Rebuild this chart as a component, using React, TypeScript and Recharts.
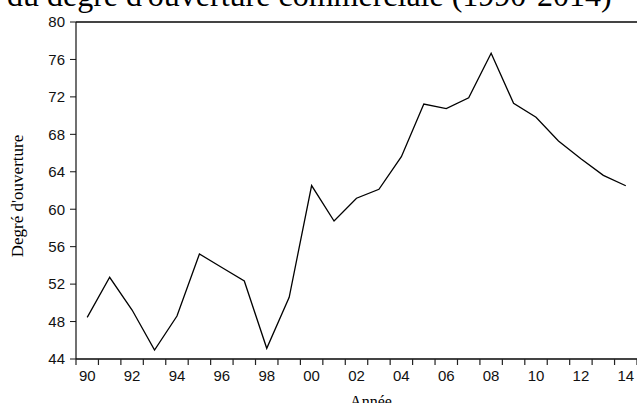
import { LineChart, Line, XAxis, YAxis, ReferenceLine } from "recharts";

const years = [
  1990, 1991, 1992, 1993, 1994, 1995, 1996, 1997, 1998, 1999, 2000, 2001, 2002,
  2003, 2004, 2005, 2006, 2007, 2008, 2009, 2010, 2011, 2012, 2013, 2014,
];
const openness = [
  48.45, 52.73, 49.23, 44.96, 48.59, 55.22, 53.77, 52.33, 45.14, 50.59, 62.53,
  58.74, 61.17, 62.13, 65.61, 71.24, 70.74, 71.91, 76.66, 71.31, 69.82, 67.29,
  65.4, 63.62, 62.51,
];
const labelYears = [
  1990, 1992, 1994, 1996, 1998, 2000, 2002, 2004, 2006, 2008, 2010, 2012, 2014,
];
const yTicks = [44, 48, 52, 56, 60, 64, 68, 72, 76, 80];

const data = years.map((year, i) => ({ year, value: openness[i] }));
// tick marks sit between years, labels at the year itself
const yearEdges = [...years.map((y) => y - 0.5), years[years.length - 1] + 0.5];
const xDomain = [yearEdges[0], yearEdges[yearEdges.length - 1]];

const SANS = "Liberation Sans, Arial, sans-serif";
const SERIF = "Liberation Serif, Times New Roman, serif";

const shortYear = (y: number) => String(y % 100).padStart(2, "0");
const noLabel = () => <g />;

export default function App() {
  return (
    <div
      style={{
        position: "absolute",
        left: 0,
        top: 0,
        width: 637,
        height: 403,
        background: "#fff",
      }}
    >
      <LineChart
        width={637}
        height={403}
        data={data}
        margin={{ top: 22, right: 0, bottom: 24, left: 0 }}
      >
        <XAxis
          xAxisId="edges"
          dataKey="year"
          type="number"
          domain={xDomain}
          ticks={yearEdges}
          interval={0}
          tick={noLabel}
          tickSize={6}
          height={1}
          axisLine={{ stroke: "#444", strokeWidth: 2 }}
          tickLine={{ stroke: "#222", strokeWidth: 1.2 }}
        />
        <XAxis
          xAxisId="years"
          dataKey="year"
          type="number"
          domain={xDomain}
          ticks={labelYears}
          tickFormatter={shortYear}
          interval={0}
          axisLine={false}
          tickLine={false}
          tickSize={6}
          tickMargin={4}
          height={19}
          tick={{ fontFamily: SANS, fontSize: 15, fill: "#111" }}
        />
        <YAxis
          domain={[44, 80]}
          ticks={yTicks}
          interval={0}
          width={76}
          tickSize={6}
          tickMargin={5}
          axisLine={{ stroke: "#111", strokeWidth: 1.2 }}
          tickLine={{ stroke: "#111" }}
          tick={{ fontFamily: SANS, fontSize: 15, fill: "#111" }}
        />
        <ReferenceLine xAxisId="years" y={80} stroke="#444" strokeWidth={2} />
        <Line
          xAxisId="years"
          dataKey="value"
          stroke="#000"
          strokeWidth={1.3}
          dot={false}
          isAnimationActive={false}
        />
        <text x={7} y={6} fontFamily={SERIF} fontSize={32} fill="#000">
          du degré d'ouverture commerciale (1990-2014)
        </text>
        <text
          x={23}
          y={196}
          transform="rotate(-90 23 196)"
          textAnchor="middle"
          fontFamily={SERIF}
          fontSize={17}
          fill="#000"
        >
          Degré d'ouverture
        </text>
        <text
          x={371}
          y={407}
          textAnchor="middle"
          fontFamily={SERIF}
          fontSize={16}
          fill="#000"
        >
          Année
        </text>
      </LineChart>
    </div>
  );
}
